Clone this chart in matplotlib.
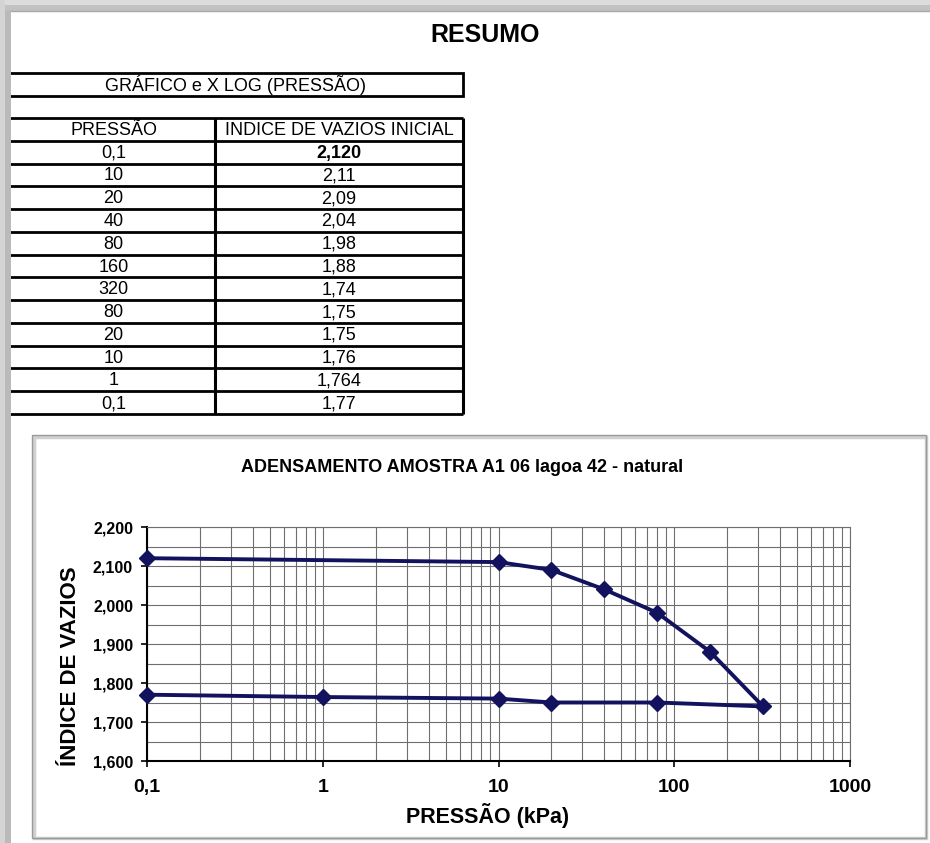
import numpy as np
import matplotlib
matplotlib.use("Agg")
import matplotlib.pyplot as plt
from matplotlib.patches import Rectangle
from matplotlib.ticker import FixedLocator, FuncFormatter, MultipleLocator, LogLocator, NullFormatter

plt.rcParams['font.family'] = ['Liberation Sans', 'DejaVu Sans']

# dados da tabela (como aparecem no resumo)
pressao = ["0,1", "10", "20", "40", "80", "160", "320", "80", "20", "10", "1", "0,1"]
indice = ["2,120", "2,11", "2,09", "2,04", "1,98", "1,88", "1,74", "1,75", "1,75", "1,76", "1,764", "1,77"]
x_ticks = [0.1, 1, 10, 100, 1000]

p_vals = [float(s.replace(',', '.')) for s in pressao]
e_vals = [float(s.replace(',', '.')) for s in indice]

W, H = 930, 843
fig = plt.figure(figsize=(W / 100, H / 100), dpi=100)
fig.patch.set_facecolor('white')

# camada de fundo em pixels
bg = fig.add_axes([0, 0, 1, 1], zorder=0)
bg.set_xlim(0, W)
bg.set_ylim(H, 0)
bg.axis('off')

# bordas cinzas da captura (por cima da tabela)
bg.add_patch(Rectangle((0, 0), W, 5, color='#dcdcdc', lw=0, zorder=5))
bg.add_patch(Rectangle((0, 5), W, 6, color='#c2c2c2', lw=0, zorder=5))
bg.plot([0, W], [11, 11], color='#a8a8a8', lw=1, zorder=5)
bg.add_patch(Rectangle((0, 0), 5, H, color='#d4d4d4', lw=0, zorder=6))
bg.add_patch(Rectangle((5, 11), 6, H, color='#bababa', lw=0, zorder=6))

bg.text(485, 35, "RESUMO", ha='center', va='center', fontsize=18, fontweight='bold')

# caixa do titulo da tabela
left, mid, right = 8, 215, 463
bg.add_patch(Rectangle((left, 73), right - left, 23, fill=False, ec='black', lw=2))
bg.text((left + right) / 2, 85, "GRÁFICO e X LOG (PRESSÃO)", ha='center', va='center', fontsize=13)

# tabela
rows = np.linspace(118, 414, len(pressao) + 2)
for y in rows:
    bg.plot([left, right], [y, y], color='black', lw=2, solid_capstyle='butt')
for x in [left, mid, right]:
    bg.plot([x, x], [rows[0], rows[-1]], color='black', lw=2.2, solid_capstyle='butt')

c1 = (left + mid) / 2 + 2
c2 = (mid + right) / 2
bg.text(c1, (rows[0] + rows[1]) / 2 + 1, "PRESSÃO", ha='center', va='center', fontsize=13)
bg.text(c2, (rows[0] + rows[1]) / 2 + 1, "INDICE DE VAZIOS INICIAL", ha='center', va='center', fontsize=13)
for i, (p, e) in enumerate(zip(pressao, indice)):
    yc = (rows[i + 1] + rows[i + 2]) / 2 + 1
    bg.text(c1, yc, p, ha='center', va='center', fontsize=13)
    bg.text(c2, yc, e, ha='center', va='center', fontsize=13,
            fontweight='bold' if i == 0 else 'normal')

# moldura do grafico
bg.add_patch(Rectangle((34, 437), 926 - 34, 838 - 437, fill=False, ec='#d0d0d0', lw=2.5))
bg.add_patch(Rectangle((32, 435), 926 - 32, 838 - 435, fill=False, ec='#9a9a9a', lw=1))

bg.text(462, 467, "ADENSAMENTO AMOSTRA A1 06 lagoa 42 - natural", ha='center', va='center',
        fontsize=13, fontweight='bold')
bg.text(70, 666, "ÍNDICE DE VAZIOS", ha='center', va='center', rotation=90,
        fontsize=16, fontweight='bold')
bg.text(488, 816, "PRESSÃO (kPa)", ha='center', va='center', fontsize=15.5, fontweight='bold')

# eixo do grafico
x0, x1, y0, y1 = 147, 850, 527, 761
ax = fig.add_axes([x0 / W, 1 - y1 / H, (x1 - x0) / W, (y1 - y0) / H], zorder=2)
ax.set_facecolor('white')
ax.set_xscale('log')
ax.set_xlim(0.1, 1000)
ax.set_ylim(1.6, 2.2)

ax.xaxis.set_major_locator(FixedLocator(x_ticks))
ax.xaxis.set_minor_locator(LogLocator(base=10, subs=np.arange(2, 10)))
ax.xaxis.set_minor_formatter(NullFormatter())
ax.xaxis.set_major_formatter(FuncFormatter(lambda v, pos: f"{v:g}".replace('.', ',')))
ax.yaxis.set_major_locator(MultipleLocator(0.1))
ax.yaxis.set_minor_locator(MultipleLocator(0.05))
ax.yaxis.set_major_formatter(FuncFormatter(lambda v, pos: f"{v:.3f}".replace('.', ',')))

ax.grid(True, which='both', color='#6e6e6e', lw=0.8)
ax.set_axisbelow(True)
for s in ['top', 'right']:
    ax.spines[s].set_color('#6e6e6e')
    ax.spines[s].set_linewidth(0.8)
for s in ['left', 'bottom']:
    ax.spines[s].set_color('black')
    ax.spines[s].set_linewidth(1.5)

ax.tick_params(axis='x', which='major', length=4, width=1.2, pad=9, labelsize=14)
ax.tick_params(axis='y', which='major', length=4, width=1.2, pad=6, labelsize=11.5)
ax.tick_params(which='minor', length=0)
for lbl in ax.get_xticklabels() + ax.get_yticklabels():
    lbl.set_fontweight('bold')

ax.plot(p_vals, e_vals, color='#12125e', lw=2.8, marker='D', markersize=8,
        markerfacecolor='#12125e', markeredgecolor='#12125e', clip_on=False, zorder=3)

fig.savefig("out.png", dpi=100, facecolor='white')
